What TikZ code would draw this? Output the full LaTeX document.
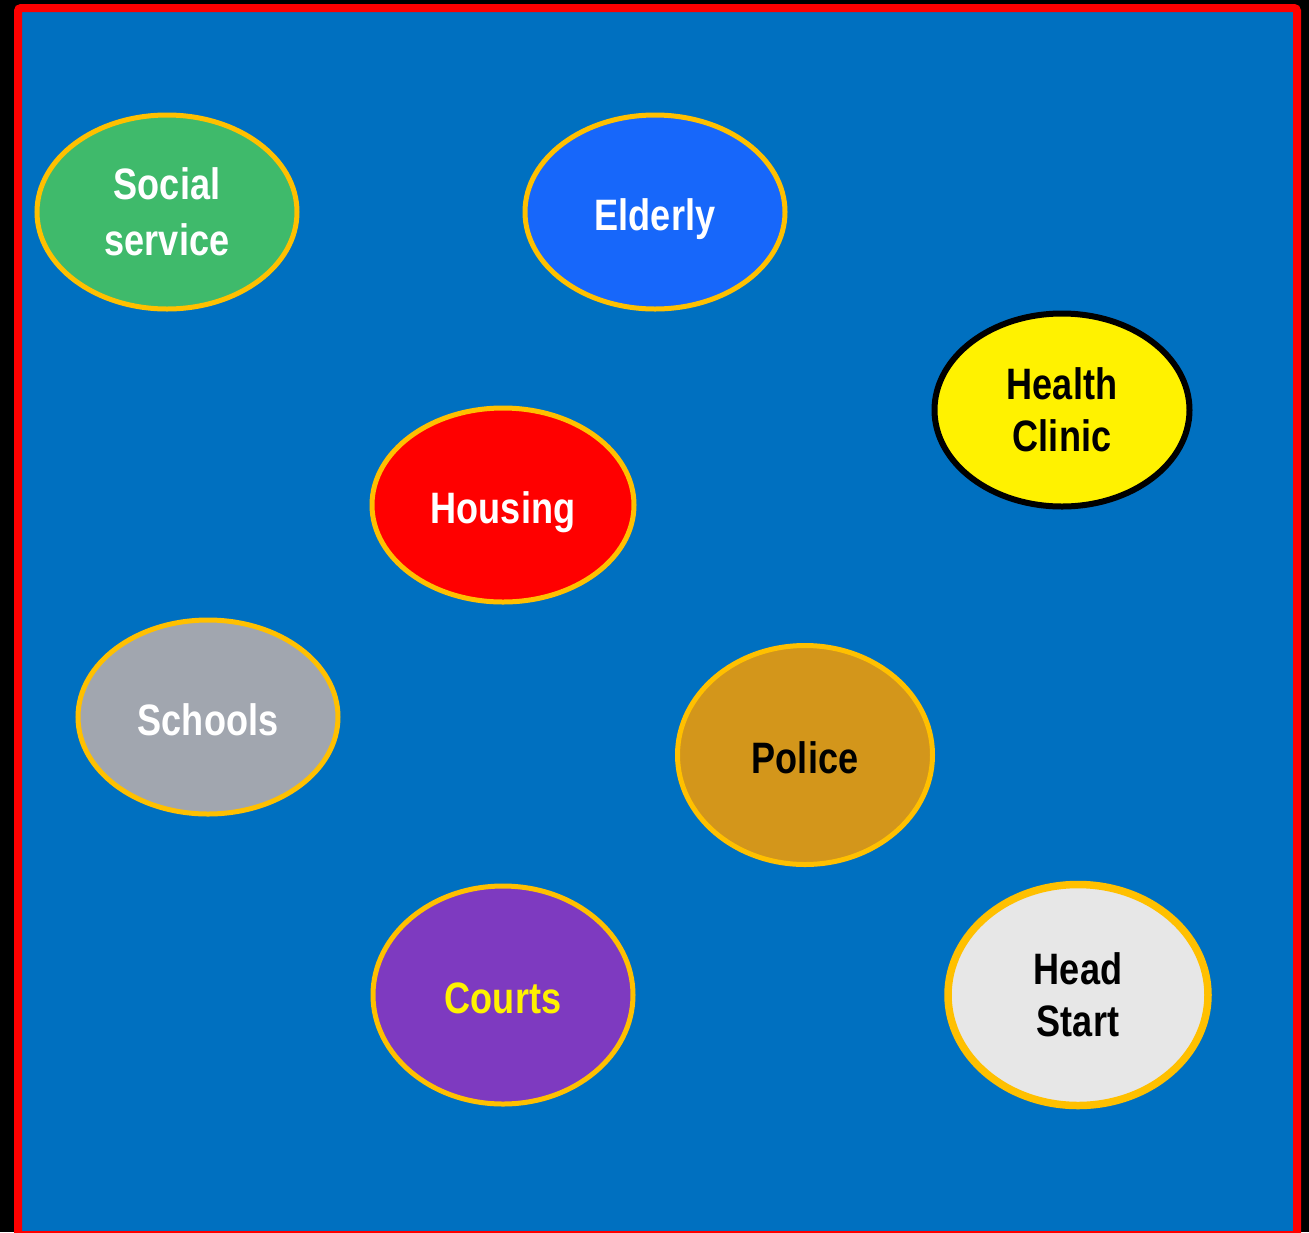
\documentclass[tikz,border=0pt]{standalone}
\usepackage{fontspec}
\setmainfont{Liberation Sans}[FakeStretch=0.82]
\usetikzlibrary{shapes.geometric}
\definecolor{bgblue}{HTML}{0070C0}
\definecolor{gold}{HTML}{FFC000}
\definecolor{sgreen}{HTML}{3FBA6B}
\definecolor{eblue}{HTML}{1767FA}
\definecolor{sgray}{HTML}{A1A6AF}
\definecolor{pgold}{HTML}{D3961B}
\definecolor{cpurple}{HTML}{7E3AC0}
\definecolor{hgray}{HTML}{E7E7E7}
\tikzset{
  bubble/.style={ellipse, draw=gold, line width=5pt, inner sep=0pt,
    font=\fontsize{44}{52}\selectfont\bfseries, align=center},
  oneline/.style={text height=36pt, text depth=0pt},
}
\begin{document}
\begin{tikzpicture}[x=1pt,y=-1pt]
\useasboundingbox[fill=black] (0,0) rectangle (1309,1232);
\draw[draw=red, fill=bgblue, line width=8pt, rounded corners=3pt] (18,8) rectangle (1297,1235);
\node[bubble, fill=sgreen, text=white, minimum width=260pt, minimum height=194pt] (social) at (167,212) {Social\\[4pt]service};
\node[bubble, oneline, fill=eblue, text=white, minimum width=260pt, minimum height=194pt] (elderly) at (655,212) {Elderly};
\node[bubble, fill=yellow, draw=black, line width=6pt, text=black, minimum width=255pt, minimum height=193pt] (health) at (1062,410) {Health\\Clinic};
\node[bubble, oneline, fill=red, text=white, minimum width=262pt, minimum height=194pt] (housing) at (503,505) {Housing};
\node[bubble, oneline, fill=sgray, text=white, minimum width=260pt, minimum height=194pt] (schools) at (208,717) {Schools};
\node[bubble, oneline, fill=pgold, text=black, minimum width=255pt, minimum height=219pt] (police) at (805,755) {Police};
\node[bubble, oneline, fill=cpurple, text=yellow, minimum width=260pt, minimum height=218pt] (courts) at (503,995) {Courts};
\node[bubble, fill=hgray, text=black, line width=7.5pt, minimum width=260pt, minimum height=221pt] (headstart) at (1078,995) {Head\\Start};
\end{tikzpicture}
\end{document}
